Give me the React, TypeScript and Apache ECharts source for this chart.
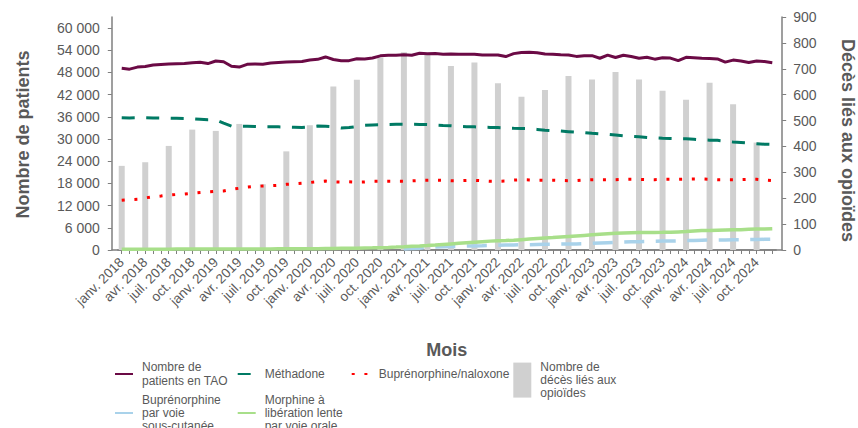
import React, { useEffect, useRef } from 'react';
import * as echarts from 'echarts';

const MONTH_ABBR = ['janv.', 'févr.', 'mars', 'avr.', 'mai', 'juin', 'juil.', 'août', 'sept.', 'oct.', 'nov.', 'déc.'];
const YEARS = [2018, 2019, 2020, 2021, 2022, 2023, 2024];
const months: string[] = YEARS.flatMap((y) => MONTH_ABBR.map((m) => `${m} ${y}`));

// Nombre de patients en TAO (axe gauche), mensuel janv. 2018 - déc. 2024
const patientsTAO = [
  49130, 48900, 49450, 49600, 50000, 50150, 50300, 50350, 50400, 50650, 50750, 50400,
  51100, 50900, 49700, 49450, 50200, 50300, 50200, 50550, 50700, 50850, 50900, 50950,
  51380, 51550, 52200, 51500, 51150, 51200, 51700, 51650, 51900, 52500, 52650, 52650,
  52800, 52650, 53200, 53050, 53100, 52950, 53000, 52950, 52900, 52950, 52750, 52700,
  52750, 52300, 53100, 53400, 53450, 53350, 53000, 52950, 52800, 52700, 52350, 52500,
  52550, 51850, 52700, 52050, 52650, 52300, 51850, 52100, 51600, 52000, 51900, 51200,
  52100, 52000, 51850, 51750, 51650, 50800, 51350, 51100, 50700, 51100, 50950, 50650,
];

const methadone = [
  35770, 35700, 35750, 35770, 35720, 35700, 35650, 35600, 35550, 35500, 35350, 35200,
  35200, 34300, 33500, 33450, 33450, 33400, 33350, 33350, 33300, 33250, 33200, 33150,
  33300, 33500, 33450, 33300, 33000, 33100, 33350, 33700, 33800, 33850, 33950, 34000,
  33980, 33980, 33950, 33900, 33750, 33650, 33600, 33450, 33350, 33300, 33200, 33150,
  33100, 33000, 32900, 32850, 32800, 32600, 32400, 32300, 32150, 32000, 31850, 31750,
  31550, 31400, 31300, 31100, 30900, 30700, 30600, 30450, 30300, 30200, 30150, 30100,
  30100, 29950, 29800, 29700, 29650, 29450, 29200, 29070, 28900, 28750, 28600, 28550,
];

const buprenorphineNaloxone = [
  13440, 13600, 13700, 14100, 14400, 14600, 14850, 15000, 15150, 15350, 15550, 15700,
  15850, 15950, 16400, 16700, 17000, 17200, 17300, 17400, 17500, 17750, 17900, 18050,
  18250, 18450, 18650, 18400, 18350, 18450, 18350, 18400, 18550, 18580, 18600, 18580,
  18600, 18700, 18800, 18850, 18900, 18850, 18750, 18740, 18800, 18850, 18700, 18580,
  18580, 18650, 18900, 19000, 18950, 18850, 18850, 18850, 18780, 18740, 18750, 18900,
  19020, 19020, 19020, 19020, 19100, 19110, 19110, 19050, 19020, 19100, 19110, 19110,
  19150, 19200, 19200, 19100, 19020, 19020, 19020, 19020, 19080, 19110, 18900, 18740,
];

const buprenorphineSC = [
  null, null, null, null, null, null, null, null, null, null, null, null,
  null, null, null, null, null, null, null, null, null, null, null, null,
  null, null, null, null, null, null, null, null, null, null, null, null,
  300, 400, 500, 650, 800, 900, 950, 1000, 1050, 1080, 1150, 1250,
  1300, 1350, 1380, 1400, 1450, 1500, 1530, 1560, 1600, 1620, 1650, 1700,
  1800, 1900, 1980, 2050, 2150, 2200, 2250, 2300, 2350, 2400, 2430, 2480,
  2550, 2600, 2650, 2700, 2700, 2720, 2750, 2750, 2800, 2850, 2880, 2900,
];

const morphineLP = [
  200, 200, 210, 220, 220, 230, 230, 240, 240, 250, 250, 260,
  260, 270, 270, 280, 280, 290, 300, 300, 310, 320, 330, 340,
  350, 370, 390, 410, 440, 470, 500, 540, 580, 630, 700, 780,
  880, 990, 1100, 1220, 1350, 1500, 1650, 1800, 1950, 2100, 2250, 2400,
  2480, 2550, 2650, 2800, 2950, 3100, 3250, 3350, 3500, 3650, 3800, 3950,
  4100, 4250, 4400, 4500, 4600, 4650, 4700, 4720, 4750, 4770, 4800, 4900,
  5000, 5150, 5250, 5300, 5350, 5400, 5450, 5500, 5580, 5650, 5700, 5770,
];

// Nombre de décès liés aux opioïdes (axe droit), trimestriel
const decesTrimestriels = [
  325, 339, 402, 465, 460, 487, 254, 381, 482, 632, 658, 743, 764, 760,
  711, 724, 644, 592, 618, 672, 659, 688, 659, 615, 580, 646, 563, 415,
];

const leftTicks = [0, 6000, 12000, 18000, 24000, 30000, 36000, 42000, 48000, 54000, 60000];

const NAMES = {
  tao: 'Nombre de patients en TAO',
  meth: 'Méthadone',
  bupnal: 'Buprénorphine/naloxone',
  deces: 'Nombre de décès liés aux opioïdes',
  bupsc: 'Buprénorphine par voie sous-cutanée',
  morph: 'Morphine à libération lente par voie orale',
};

const LEGEND_LABELS: Record<string, string> = {
  [NAMES.tao]: 'Nombre de\npatients en TAO',
  [NAMES.meth]: 'Méthadone',
  [NAMES.bupnal]: 'Buprénorphine/naloxone',
  [NAMES.deces]: 'Nombre de\ndécès liés aux\nopioïdes',
  [NAMES.bupsc]: 'Buprénorphine\npar voie\nsous-cutanée',
  [NAMES.morph]: 'Morphine à\nlibération lente\npar voie orale',
};

const FONT = '"Liberation Sans", Arial, sans-serif';
const GREY = '#595959';
const AXIS = '#7f7f7f';

export default function App() {
  const ref = useRef<HTMLDivElement>(null);

  useEffect(() => {
    document.body.style.margin = '0';
    if (!ref.current) return;
    const chart = echarts.init(ref.current, null, { renderer: 'svg' });

    const barData = months.map((_, i) => (i % 3 === 0 ? decesTrimestriels[i / 3] : null));

    const legendBase = {
      padding: 0,
      itemWidth: 18,
      itemHeight: 14,
      selectedMode: false,
      formatter: (n: string) => LEGEND_LABELS[n] ?? n,
      textStyle: { fontSize: 12, color: GREY, fontFamily: FONT, lineHeight: 13.4, padding: [0, 0, 0, 4] },
    };
    const lineLegend = { ...legendBase, itemStyle: { opacity: 0 } };

    chart.setOption({
      animation: false,
      textStyle: { fontFamily: FONT },
      grid: [
        { left: 117.8, right: 81.8, top: 17, bottom: 178 },
        { left: 112, right: 76, top: 17, bottom: 178 },
      ],
      xAxis: [
        {
          type: 'category',
          gridIndex: 0,
          data: months,
          boundaryGap: true,
          axisLine: { show: true, lineStyle: { color: AXIS, width: 1.5 } },
          axisTick: { show: true, alignWithLabel: true, interval: 0, length: 4, lineStyle: { color: AXIS } },
          axisLabel: { interval: 2, rotate: 45, fontSize: 13.5, color: GREY, margin: 10, fontFamily: FONT },
          splitLine: { show: false },
        },
        {
          type: 'value',
          gridIndex: 1,
          min: 0,
          max: 1,
          axisLine: { show: true, onZero: false, lineStyle: { color: AXIS, width: 1.5 } },
          axisTick: { show: false },
          axisLabel: { show: false },
          splitLine: { show: false },
        },
      ],
      yAxis: [
        {
          type: 'value',
          gridIndex: 0,
          position: 'left',
          offset: 6,
          min: 0,
          max: 63000,
          interval: 6000,
          axisLine: { show: true, lineStyle: { color: AXIS, width: 1.5 } },
          axisTick: { show: true, length: 4, lineStyle: { color: AXIS }, customValues: leftTicks },
          axisLabel: {
            color: GREY,
            fontSize: 14,
            margin: 12,
            customValues: leftTicks,
            formatter: (v: number) => (v >= 1000 ? `${Math.floor(v / 1000)} ${String(v % 1000).padStart(3, '0')}` : String(v)),
          },
          splitLine: { show: false },
        },
        {
          type: 'value',
          gridIndex: 0,
          position: 'right',
          offset: 6,
          min: 0,
          max: 900,
          interval: 100,
          axisLine: { show: true, lineStyle: { color: AXIS, width: 1.5 } },
          axisTick: { show: true, length: 4, lineStyle: { color: AXIS } },
          axisLabel: { color: GREY, fontSize: 14, margin: 11 },
          splitLine: { show: false },
        },
        { type: 'value', gridIndex: 1, show: false, min: 0, max: 1 },
      ],
      legend: [
        { ...lineLegend, data: [NAMES.tao], left: 114, top: 360.6 },
        { ...lineLegend, data: [NAMES.meth], left: 236.7, top: 367.3 },
        { ...lineLegend, data: [NAMES.bupnal], left: 350.7, top: 367.3 },
        { ...legendBase, data: [{ name: NAMES.deces, icon: 'rect' }], left: 513.3, top: 360, itemHeight: 35 },
        { ...lineLegend, data: [NAMES.bupsc], left: 114, top: 392.9 },
        { ...lineLegend, data: [NAMES.morph], left: 236.7, top: 392.9 },
      ],
      graphic: [
        {
          type: 'text',
          x: 23,
          y: 134.5,
          rotation: Math.PI / 2,
          style: { text: 'Nombre de patients', font: `bold 18px ${FONT}`, fill: GREY, textAlign: 'center', textVerticalAlign: 'middle' },
        },
        {
          type: 'text',
          x: 848,
          y: 140.5,
          rotation: -Math.PI / 2,
          style: { text: 'Décès liés aux opioïdes', font: `bold 18px ${FONT}`, fill: GREY, textAlign: 'center', textVerticalAlign: 'middle' },
        },
        {
          type: 'text',
          x: 446.7,
          y: 350,
          style: { text: 'Mois', font: `bold 18px ${FONT}`, fill: GREY, textAlign: 'center', textVerticalAlign: 'middle' },
        },
      ],
      series: [
        {
          name: NAMES.deces,
          type: 'bar',
          xAxisIndex: 0,
          yAxisIndex: 1,
          data: barData,
          barWidth: 6,
          itemStyle: { color: '#d0d0d0' },
        },
        {
          name: NAMES.tao,
          type: 'line',
          xAxisIndex: 0,
          yAxisIndex: 0,
          data: patientsTAO,
          symbol: 'none',
          lineStyle: { color: '#6b0a45', width: 3 },
          itemStyle: { color: '#6b0a45' },
        },
        {
          name: NAMES.meth,
          type: 'line',
          xAxisIndex: 0,
          yAxisIndex: 0,
          data: methadone,
          symbol: 'none',
          lineStyle: { color: '#007a64', width: 3, type: [13, 11.5] },
          itemStyle: { color: '#007a64' },
        },
        {
          name: NAMES.bupnal,
          type: 'line',
          xAxisIndex: 0,
          yAxisIndex: 0,
          data: buprenorphineNaloxone,
          symbol: 'none',
          lineStyle: { color: '#ff0000', width: 3, type: [3, 9.7] },
          itemStyle: { color: '#ff0000' },
        },
        {
          name: NAMES.bupsc,
          type: 'line',
          xAxisIndex: 0,
          yAxisIndex: 0,
          data: buprenorphineSC,
          symbol: 'none',
          lineStyle: { color: '#a9d2ea', width: 3.5, type: [20, 11.5] },
          itemStyle: { color: '#a9d2ea' },
        },
        {
          name: NAMES.morph,
          type: 'line',
          xAxisIndex: 0,
          yAxisIndex: 0,
          data: morphineLP,
          symbol: 'none',
          lineStyle: { color: '#a8df8a', width: 3.5 },
          itemStyle: { color: '#a8df8a' },
        },
      ],
    });

    return () => chart.dispose();
  }, []);

  return <div ref={ref} style={{ width: 858, height: 428 }} />;
}
